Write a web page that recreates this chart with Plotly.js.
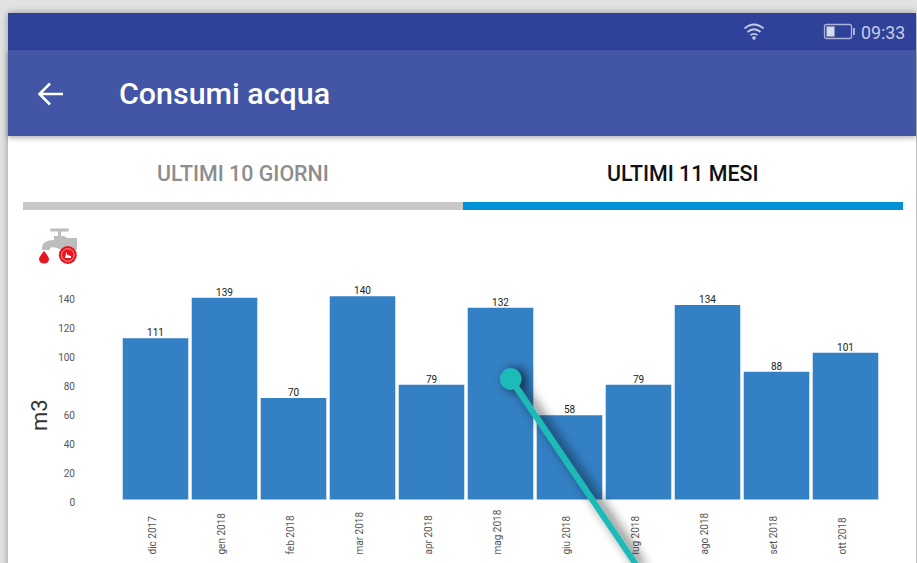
<!DOCTYPE html>
<html><head><meta charset="utf-8">
<script src="https://cdn.plot.ly/plotly-3.0.1.min.js"></script>
<style>
html,body{margin:0;padding:0;width:917px;height:563px;overflow:hidden;background:#fff;font-family:Roboto,sans-serif}
#bg{position:absolute;left:0;top:0;width:917px;height:563px;background:#e2e2e2}
#frame{position:absolute;left:8px;top:13px;width:908px;height:560px;background:#fff;box-shadow:0 0 7px rgba(0,0,0,.35)}
#status{position:absolute;left:8px;top:13px;width:908px;height:37px;background:#304199}
#appbar{position:absolute;left:8px;top:50px;width:908px;height:86px;background:#4256a5;box-shadow:0 2px 5px rgba(0,0,0,.3)}
.t{position:absolute;white-space:nowrap;line-height:1}
#title{left:119px;top:79px;font-size:30.4px;font-weight:500;color:#fff}
#time{left:861px;top:23.5px;font-size:17.8px;color:#c3cbe6}
#tab1{left:157px;top:163px;font-size:21.4px;font-weight:500;color:#8d8d8d}
#tab2{left:607px;top:163px;font-size:21.4px;font-weight:500;color:#111}
#ind1{position:absolute;left:23px;top:202px;width:440px;height:8px;background:#c8c8c8}
#ind2{position:absolute;left:463px;top:202px;width:440px;height:8px;background:#0091d7}
#chart{position:absolute;left:0;top:0;width:917px;height:563px}
svg.o{position:absolute;left:0;top:0;pointer-events:none}
</style></head><body>
<div id="bg"></div><div id="frame"></div><div id="status"></div><div id="appbar"></div>
<div class="t" id="title">Consumi acqua</div>
<div class="t" id="time">09:33</div>
<div class="t" id="tab1">ULTIMI 10 GIORNI</div>
<div class="t" id="tab2">ULTIMI 11 MESI</div>
<div id="ind1"></div><div id="ind2"></div>
<svg class="o" width="917" height="563" style="z-index:1">
 <path d="M40 94H63M50 83.5L39.5 94L50 104.5" fill="none" stroke="#fff" stroke-width="2.6"/>
 <g fill="none" stroke="#c3cbe6" stroke-width="1.7">
  <path d="M744.5 28.5Q754 20.5 763.5 28.5"/><path d="M747.5 32Q754 26.5 760.5 32"/><path d="M750.5 35.2Q754 32.5 757.5 35.2"/>
 </g><circle cx="754" cy="38" r="1.8" fill="#c3cbe6"/>
 <rect x="824.5" y="24.5" width="27" height="14" rx="2" fill="none" stroke="#aab3d8" stroke-width="1.3"/>
 <rect x="826.5" y="26.5" width="8" height="10" fill="#d6dbee"/>
 <rect x="853" y="28" width="2" height="7" fill="#aab3d8"/>
 <g fill="#bdbdbd">
  <rect x="50" y="228.5" width="19" height="3" rx="1.5"/><rect x="58" y="230" width="3" height="7"/>
  <path d="M54 236H64L67 238H77V250H62Q53 246 50 248V250H42V247Q43 240 54 240Z"/>
 </g>
 <g fill="#e8141f">
  <path d="M44 251Q39 257 39 259A5 4.6 0 0 0 49 259Q49 257 44 251Z"/>
  <circle cx="67.8" cy="255" r="9"/>
 </g>
 <circle cx="67.8" cy="255" r="6.3" fill="none" stroke="#ff9c9c" stroke-width="1"/>
 <path d="M65 258H71V256L67.5 255L66.5 252Z" fill="#fff"/>
</svg>
<div id="chart" style="z-index:2"></div>
<svg class="o" width="917" height="563" style="z-index:3">
 <defs><filter id="sh" x="-50%" y="-50%" width="200%" height="200%"><feDropShadow dx="5" dy="1" stdDeviation="6" flood-color="#000" flood-opacity=".75"/></filter></defs>
 <g filter="url(#sh)">
  <line x1="510.7" y1="379" x2="637" y2="566" stroke="#1fbbb7" stroke-width="6"/>
  <circle cx="510.7" cy="379" r="10.7" fill="#1fbbb7"/>
 </g>
</svg>
<script>
const months = ["dic 2017","gen 2018","feb 2018","mar 2018","apr 2018","mag 2018","giu 2018","lug 2018","ago 2018","set 2018","ott 2018"];
const consumi = [111,139,70,140,79,132,58,79,134,88,101];
const yTicks = [0,20,40,60,80,100,120,140];
const yTitle = "m3";

const W=917,H=563,top_=281,bottom_=2;
const plotH=H-top_-bottom_;
const plotBottom=H-bottom_;
const axisBottom=499.6, domainBottom=508, scale=1.453, labelDrop=2.9;
const yRange=[-(domainBottom-axisBottom)/scale,(axisBottom-top_)/scale];
const yLabelRange=[yRange[0]+labelDrop/scale,yRange[1]+labelDrop/scale];
const commonDomain=[(plotBottom-domainBottom)/plotH,1];
Plotly.newPlot('chart',[{
  type:'bar',x:months,y:consumi,
  marker:{color:'#3380c4',line:{width:0}},
  hoverinfo:'x+y'
},{
  type:'scatter',mode:'markers+text',x:months,y:consumi,yaxis:'y2',text:consumi.map(String),
  textposition:'top center',cliponaxis:false,marker:{size:2,opacity:0},
  textfont:{family:'Roboto',size:10,color:'#222'},hoverinfo:'skip'
}],{
  width:W,height:H,autosize:false,showlegend:false,bargap:0.05,
  paper_bgcolor:'rgba(0,0,0,0)',plot_bgcolor:'rgba(0,0,0,0)',
  margin:{l:120.9,r:37,t:top_,b:bottom_,pad:0},
  font:{family:'Roboto'},
  xaxis:{type:'category',categoryorder:'array',categoryarray:months,range:[-0.5,10.5],
    anchor:'free',position:0,tickangle:-90,ticklabelposition:'inside',ticks:'',ticklabelshift:-3,
    showgrid:false,zeroline:false,showline:false,
    tickfont:{family:'Roboto',size:10,color:'#555'}},
  yaxis:{domain:commonDomain,range:yRange,anchor:'free',position:0,showticklabels:false,ticks:'',
    showgrid:false,zeroline:false,showline:false},
  yaxis2:{domain:commonDomain,range:yLabelRange,overlaying:'y',side:'left',anchor:'free',position:0,
    tickvals:yTicks,ticks:'',ticklabelstandoff:46,
    showgrid:false,zeroline:false,showline:false,
    tickfont:{family:'Roboto',size:10,color:'#555'}},
  annotations:[{text:yTitle,textangle:-90,xref:'paper',yref:'paper',xanchor:'center',yanchor:'middle',
    x:(39-120.9)/(W-120.9-37),y:(plotBottom-415)/plotH,showarrow:false,font:{family:'Roboto',size:22,color:'#333'}}]
},{displayModeBar:false,staticPlot:true});
</script>
</body></html>
